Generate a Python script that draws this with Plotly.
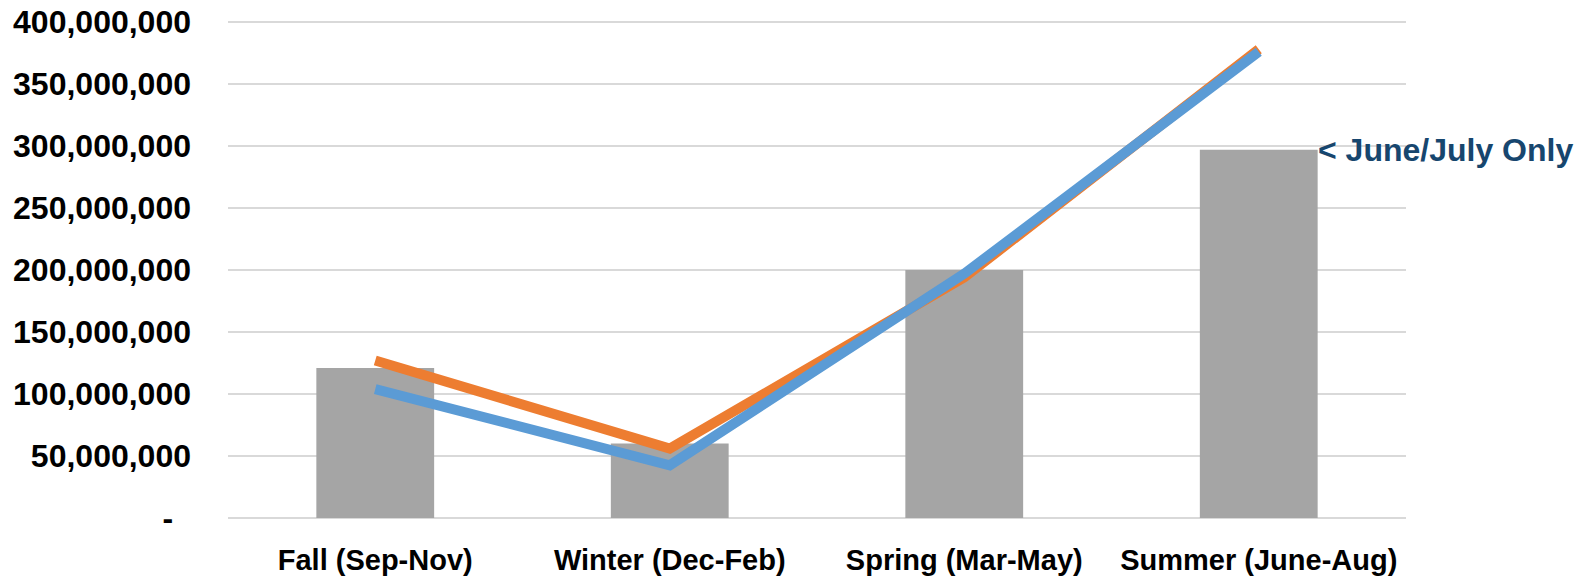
import plotly.graph_objects as go

categories = ["Fall (Sep-Nov)", "Winter (Dec-Feb)", "Spring (Mar-May)", "Summer (June-Aug)"]
bar_values = [121_000_000, 60_000_000, 200_000_000, 297_000_000]
orange_values = [127_000_000, 56_000_000, 194_000_000, 378_000_000]
blue_values = [104_000_000, 42_500_000, 197_000_000, 376_000_000]
y_tickvals = [0, 50_000_000, 100_000_000, 150_000_000, 200_000_000, 250_000_000, 300_000_000, 350_000_000, 400_000_000]
y_ticktext = ["-\u00a0\u00a0"] + [f"{v:,}" for v in y_tickvals[1:]]
note_text = "< June/July Only"

fig = go.Figure()
fig.add_trace(go.Bar(x=categories, y=bar_values, marker=dict(color="#a5a5a5", line=dict(width=0)),
                     width=0.4, showlegend=False, hoverinfo="skip"))
fig.add_trace(go.Scatter(x=categories, y=orange_values, mode="lines",
                         line=dict(color="#ed7d31", width=10), showlegend=False))
fig.add_trace(go.Scatter(x=categories, y=blue_values, mode="lines",
                         line=dict(color="#5b9bd5", width=10), showlegend=False))

fig.add_annotation(x=3.2, y=bar_values[3], xref="x", yref="y", text=note_text,
                   showarrow=False, xanchor="left", yanchor="middle", xshift=-2,
                   font=dict(family="Liberation Sans, Arial, sans-serif", size=32, color="#17466e", weight="bold"))

fig.update_layout(
    width=1590, height=583,
    margin=dict(l=228, r=184, t=18, b=65),
    paper_bgcolor="white", plot_bgcolor="white",
    font=dict(family="Liberation Sans, Arial, sans-serif", color="#000000"),
    bargap=0.6,
)
fig.update_xaxes(range=[-0.5, 3.5], showgrid=False, showline=False, ticks="", ticklabelstandoff=22,
                 tickangle=0, automargin=False,
                 tickfont=dict(size=29, weight="bold", color="#000000"))
fig.update_yaxes(range=[0, 403_226_000], tickvals=y_tickvals, ticktext=y_ticktext,
                 showgrid=True, gridcolor="#d9d9d9", gridwidth=1.5,
                 zeroline=True, zerolinecolor="#d9d9d9", zerolinewidth=1.5,
                 showline=False, ticks="", ticklabelstandoff=36, automargin=False,
                 ticklabeloverflow="allow",
                 tickfont=dict(size=32, weight="bold", color="#000000"))

fig.write_html("out.html", config={"displayModeBar": False},
               post_script="document.body.style.margin='0';")
